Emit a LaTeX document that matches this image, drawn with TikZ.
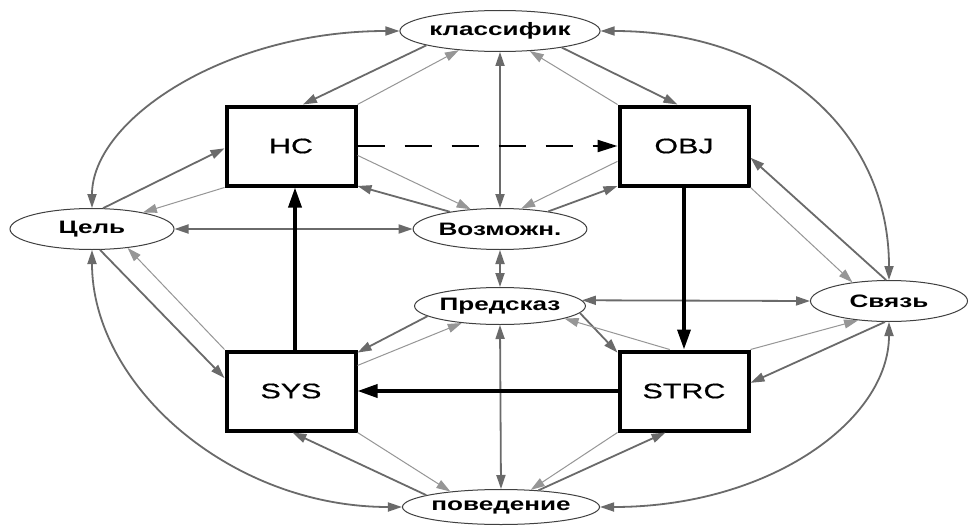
\documentclass[tikz,border=0pt]{standalone}
\usepackage{fontspec}
\setmainfont{Liberation Sans}
\newfontfamily\elfont[FakeStretch=1.45]{Liberation Sans}
\newfontfamily\bxfont[FakeStretch=1.45,FakeBold=0.6]{Liberation Sans}
\usetikzlibrary{shapes.geometric,arrows.meta,calc}
\definecolor{dkg}{HTML}{6A6A6A}
\definecolor{ltg}{HTML}{969696}
\definecolor{ell}{HTML}{404040}
\begin{document}
\begin{tikzpicture}[x=1pt,y=-1pt,
  ellnode/.style={ellipse, draw=ell, line width=1pt, fill=white, inner sep=0pt, font=\elfont\bfseries\fontsize{18}{21}\selectfont},
  boxnode/.style={rectangle, draw=black, line width=4pt, fill=white, minimum width=129pt, minimum height=79pt, inner sep=0pt, font=\bxfont\fontsize{21}{24}\selectfont},
  dk/.style={draw=dkg, line width=1.8pt, -{Triangle[length=14pt,width=9pt]}},
  lt/.style={draw=ltg, line width=1pt, -{Triangle[length=14pt,width=9pt]}},
  dd/.style={draw=dkg, line width=1.8pt, {Triangle[length=14pt,width=9pt]}-{Triangle[length=14pt,width=9pt]}},
  thk/.style={draw=black, line width=3.5pt, -{Triangle[length=20pt,width=13pt]}},
  dsh/.style={draw=black, line width=2.2pt, dash pattern=on 27pt off 20pt, -{Triangle[length=20pt,width=12pt]}}
]
\fill[white] (0,0) rectangle (969,527);
\useasboundingbox (0,0) rectangle (969,527);

% ellipses
\node[ellnode, minimum width=181pt, minimum height=41pt] (klass) at (500,31) {классифик};
\node[ellnode, minimum width=164pt, minimum height=41pt] (cel) at (92,229) {Цель};
\node[ellnode, minimum width=164pt, minimum height=41pt] (vozm) at (500,229) {Возможн.};
\node[ellnode, minimum width=163pt, minimum height=37pt] (pred) at (500,306) {Предсказ};
\node[ellnode, minimum width=157pt, minimum height=41pt] (svyaz) at (889,301) {Связь};
\node[ellnode, minimum width=182pt, minimum height=35pt] (pov) at (501,507) {поведение};

% boxes
\node[boxnode] (hc) at (291,146) {HC};
\node[boxnode] (obj) at (684,146) {OBJ};
\node[boxnode] (sys) at (291,391) {SYS};
\node[boxnode] (strc) at (684,391) {STRC};

% HC links
\draw[dk] (klass.191) -- (hc.74);
\draw[lt] (hc.north east) -- (klass.205);
\draw[dk] (cel.62) -- (hc.182);
\draw[lt] (hc.south west) -- (cel.18);
\draw[dk] (vozm.161) -- (hc.329);
\draw[lt] (hc.352) -- (vozm.146);
% OBJ links
\draw[dk] (klass.345) -- (obj.99);
\draw[lt] (obj.north west) -- (klass.326);
\draw[dk] (vozm.20) -- (obj.211);
\draw[lt] (obj.193) -- (vozm.44);
\draw[dk] (svyaz.98) -- (obj.350);
\draw[lt] (obj.south east) -- (svyaz.153);
% SYS links
\draw[dk] (cel.291) -- (sys.169);
\draw[lt] (sys.north west) -- (cel.332);
\draw[dk] (pred.188) -- (sys.30);
\draw[lt] (sys.21) -- (pred.204);
\draw[dk] (pov.171) -- (sys.272);
\draw[lt] (sys.south east) -- (pov.163);
% STRC links
\draw[dk] (pred.355) -- (strc.150);
\draw[lt] (strc.109) -- (pred.349);
\draw[dk] (svyaz.259) -- (strc.7);
\draw[lt] (strc.north east) -- (svyaz.212);
\draw[dk] (pov.24) -- (strc.246);
\draw[lt] (strc.south west) -- (pov.30);

% ellipse-ellipse
\draw[dd] (cel.east) -- (vozm.west);
\draw[dd] (klass.south) -- (vozm.north);
\draw[dd] (vozm.south) -- (pred.north);
\draw[dd] (pred.south) -- (pov.north);
\draw[dd] (pred.4) -- (svyaz.west);

% curves
\draw[dd] (cel.north) .. controls (92,120) and (225,31) .. (klass.west);
\draw[dd] (svyaz.north) .. controls (889,130) and (775,31) .. (klass.east);
\draw[dd] (cel.south) .. controls (92,385) and (230,507) .. (pov.west);
\draw[dd] (svyaz.south) .. controls (889,420) and (770,507) .. (pov.east);

% thick links
\draw[thk] ($(sys.north)+(4,0)$) -- ($(hc.south)+(4,0)$);
\draw[thk] (obj.south) -- (strc.north);
\draw[thk] (strc.west) -- (sys.east);
\draw[dsh] (hc.east) -- (obj.west);
\end{tikzpicture}
\end{document}
